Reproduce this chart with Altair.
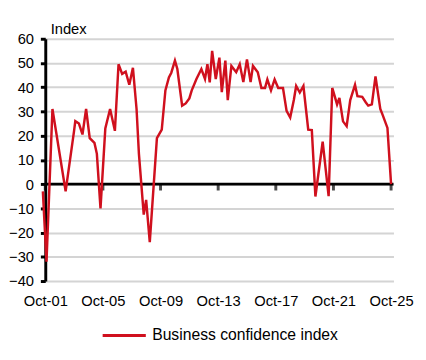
import altair as alt
import pandas as pd

# ---- data ----
dates = ["2001-08", "2001-11", "2002-04", "2003-03", "2003-10", "2003-11", "2004-02", "2004-05",
         "2004-08", "2004-11", "2005-03", "2005-05", "2005-08", "2005-12", "2006-04", "2006-08",
         "2006-11", "2007-02", "2007-05", "2007-08", "2007-11", "2008-02", "2008-04", "2008-08",
         "2008-10", "2009-01", "2009-07", "2009-11", "2010-02", "2010-05", "2010-07", "2010-10",
         "2010-12", "2011-04", "2011-07", "2011-10", "2011-12", "2012-04", "2012-08", "2012-11",
         "2013-01", "2013-03", "2013-05", "2013-08", "2013-11", "2014-01", "2014-04", "2014-06",
         "2014-09", "2015-01", "2015-04", "2015-07", "2015-10", "2016-01", "2016-03", "2016-07",
         "2016-10", "2017-01", "2017-03", "2017-06", "2017-09", "2017-12", "2018-04", "2018-07",
         "2018-10", "2019-01", "2019-03", "2019-06", "2019-09", "2020-01", "2020-04", "2020-07",
         "2021-01", "2021-06", "2021-09", "2022-01", "2022-03", "2022-06", "2022-09", "2022-12",
         "2023-04", "2023-06", "2023-10", "2024-01", "2024-03", "2024-06", "2024-09", "2025-01",
         "2025-03", "2025-07", "2025-10"]
values = [-3, -32, 31, -3, 22, 26, 25, 20.5, 31, 19, 17, 12.5, -10, 23, 31, 22,
          49.5, 45.5, 46.4, 41, 48, 31, 12.5, -12.6, -6.5, -24, 19, 22.5, 38.7, 44, 46, 51,
          47.5, 32.4, 33.3, 35.4, 38.7, 43.5, 47.5, 43.4, 49.5, 42, 55, 43.4, 52.2, 38, 51, 34.7,
          48.8, 46.2, 49.5, 42.1, 51.5, 42.1, 48.8, 46.2, 39.7, 39.7, 43.2, 38.7, 43.2, 39.7, 39.7, 30.2,
          27.5, 34.7, 40.5, 37.8, 40.5, 22.5, 22.3, -5.1, 17.5, -5, 39.7, 32.9, 35.6, 25.9, 23.9, 34.7,
          41, 36.3, 36, 33.7, 32.4, 32.9, 44.5, 31, 28.6, 23.2, 0]
series_name = "Business confidence index"
tick_years = [2001, 2005, 2009, 2013, 2017, 2021, 2025]
y_ticks = [-40, -30, -20, -10, 0, 10, 20, 30, 40, 50, 60]

RED = "#D0101E"
FONT = "Liberation Sans"

df = pd.DataFrame({
    "date": [d + "-01T00:00:00" for d in dates],
    "value": values,
    "series": [series_name] * len(values),
})
ticks_df = pd.DataFrame({
    "date": [f"{y}-10-01T00:00:00" for y in tick_years],
    "value": [0] * len(tick_years),
})
zero_df = pd.DataFrame({"value": [0]})

x_enc = alt.X(
    "date:T",
    scale=alt.Scale(domain=[alt.DateTime(year=2001, month=10, date=1),
                            alt.DateTime(year=2025, month=12, date=1)],
                    nice=False, padding=0),
    axis=alt.Axis(values=[alt.DateTime(year=y, month=10, date=1) for y in tick_years],
                  format="%b-%y", title=None, grid=False, domain=False, ticks=False,
                  labelOverlap=False, labelFlush=False, labelBound=False,
                  labelPadding=13, labelFont=FONT, labelFontSize=15, labelColor="black"),
)
y_enc = alt.Y(
    "value:Q",
    scale=alt.Scale(domain=[-40, 60], nice=False, zero=False, padding=0),
    axis=alt.Axis(values=y_ticks, title="Index", titleAngle=0, titleAlign="left",
                  titleBaseline="alphabetic", titleX=5, titleY=-5, titleFont=FONT,
                  titleFontSize=15, titleFontWeight="normal", titleColor="black",
                  labelFont=FONT, labelFontSize=15, labelColor="black", labelPadding=7,
                  tickSize=5, tickWidth=3, tickColor="black", domainColor="black",
                  domainWidth=3, grid=True, gridColor="#D4D4D4", gridWidth=2),
)

zero_rule = alt.Chart(zero_df).mark_rule(color="black", strokeWidth=3).encode(y=y_enc)
zero_ticks = alt.Chart(ticks_df).mark_tick(
    orient="vertical", color="black", thickness=3, size=7, yOffset=3
).encode(x=x_enc, y=y_enc)
line = alt.Chart(df).mark_line(strokeWidth=2.5).encode(
    x=x_enc,
    y=y_enc,
    color=alt.Color("series:N", scale=alt.Scale(range=[RED]),
                    legend=alt.Legend(title=None, orient="none", legendX=57, legendY=279,
                                      symbolType="stroke", symbolSize=1936,
                                      symbolStrokeWidth=3, labelFont=FONT,
                                      labelFontSize=16, labelColor="black", labelOffset=5,
                                      labelLimit=400)),
)

chart = alt.layer(zero_rule, zero_ticks, line).properties(
    width=355, height=247,
    autosize=alt.AutoSizeParams(type="none"),
    padding={"left": 38, "top": 28, "right": 25, "bottom": 69},
).configure_view(stroke=None)

chart.save("out.html", embed_options={"renderer": "svg", "actions": False})
